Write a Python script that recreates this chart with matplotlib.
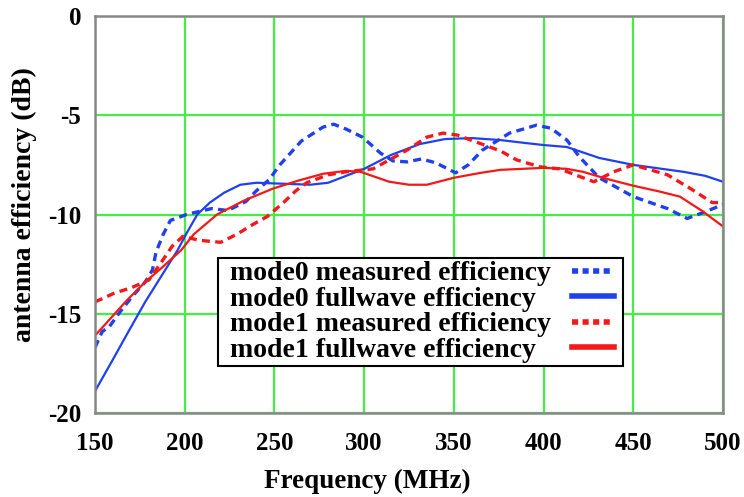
import matplotlib
matplotlib.use('Agg')
import matplotlib.pyplot as plt
from matplotlib.offsetbox import HPacker, DrawingArea

# 数据 (MHz, dB)
m0_full_f = [150, 160, 168, 178, 187, 196, 201, 207, 214, 222, 231, 240, 255, 270, 280,
             290, 300, 315, 331, 345, 360, 376, 390, 400, 413, 431, 450, 478, 490, 500]
m0_full_db = [-18.9, -17.3, -16.0, -14.4, -13.1, -11.8, -10.95, -10.0, -9.4, -8.9, -8.5, -8.4,
              -8.45, -8.5, -8.4, -8.05, -7.7, -7.0, -6.45, -6.2, -6.15, -6.25, -6.4, -6.5,
              -6.6, -7.15, -7.5, -7.85, -8.05, -8.35]

m1_full_f = [150, 159, 168, 178, 187, 198, 205, 218, 233, 249, 263, 277, 290, 298, 306,
             314, 325, 335, 350, 365, 376, 400, 413, 422, 435, 450, 465, 476, 488, 500]
m1_full_db = [-16.1, -15.2, -14.3, -13.4, -12.7, -11.8, -11.0, -10.0, -9.3, -8.7, -8.3, -7.95,
              -7.8, -7.85, -8.1, -8.35, -8.5, -8.5, -8.15, -7.9, -7.75, -7.65, -7.7, -7.85,
              -8.2, -8.55, -8.85, -9.1, -9.8, -10.6]

m0_meas_f = [150, 154, 158, 164, 171, 178, 182, 184, 188, 192, 201, 208, 215, 224, 234,
             240, 247, 253, 259, 265, 277, 283, 290, 299, 309, 316, 324, 332, 340, 351,
             358, 366, 381, 396, 404, 413, 420, 431, 450, 469, 480, 489, 500]
m0_meas_db = [-16.7, -15.9, -15.65, -14.9, -14.1, -13.4, -12.8, -11.9, -11.0, -10.3, -10.0,
              -9.85, -9.7, -9.8, -9.35, -8.8, -8.25, -7.5, -6.9, -6.3, -5.6, -5.45, -5.7,
              -6.1, -6.9, -7.3, -7.35, -7.2, -7.4, -7.9, -7.5, -6.75, -5.9, -5.5, -5.65,
              -6.25, -7.1, -8.15, -9.1, -9.7, -10.2, -9.9, -9.5]

m1_meas_f = [150, 155, 161, 170, 180, 187, 193, 199, 208, 220, 229, 238, 246, 255, 262,
             268, 280, 290, 305, 314, 324, 335, 344, 352, 361, 376, 385, 398, 409, 422,
             428, 439, 450, 469, 482, 494, 500]
m1_meas_db = [-14.4, -14.2, -13.95, -13.7, -13.3, -12.4, -11.6, -11.1, -11.3, -11.4, -11.0,
              -10.5, -10.1, -9.4, -8.8, -8.4, -8.0, -7.85, -7.7, -7.25, -6.75, -6.1, -5.9,
              -6.0, -6.3, -6.8, -7.25, -7.6, -7.7, -8.15, -8.35, -7.85, -7.5, -8.0, -8.7,
              -9.4, -9.4]

labels = ['mode0 measured efficiency', 'mode0 fullwave efficiency',
          'mode1 measured efficiency', 'mode1 fullwave efficiency']
xticks = [150, 200, 250, 300, 350, 400, 450, 500]
yticks = [0, -5, -10, -15, -20]

blue = '#2040ee'
red = '#f41818'

plt.rcParams['font.family'] = ['Liberation Serif', 'DejaVu Serif']
plt.rcParams['font.weight'] = 'bold'
plt.rcParams['axes.unicode_minus'] = False

fig = plt.figure(figsize=(7.44, 4.97), dpi=100)
ax = fig.add_axes([0.1277, 0.169, 0.8441, 0.7988])

ax.plot(m0_meas_f, m0_meas_db, color=blue, lw=2.4, dashes=(2.4, 1.6), label=labels[0])
ax.plot(m0_full_f, m0_full_db, color=blue, lw=1.6, label=labels[1])
ax.plot(m1_meas_f, m1_meas_db, color=red, lw=2.4, dashes=(2.4, 1.6), label=labels[2])
ax.plot(m1_full_f, m1_full_db, color=red, lw=1.6, label=labels[3])

ax.set_xlim(150, 500)
ax.set_ylim(-20, 0)
ax.set_xticks(xticks)
ax.set_yticks(yticks)
ax.tick_params(length=0, labelsize=18, pad=10)
ax.tick_params(axis='x', pad=14)
ax.grid(True, color='#44ee44', lw=1.6)
ax.set_axisbelow(True)
for s in ax.spines.values():
    s.set_color('#888888')
    s.set_linewidth(1.8)

ax.set_xlabel('Frequency (MHz)', fontsize=19.5, fontweight='bold')
ax.set_ylabel('antenna efficiency (dB)', fontsize=20, fontweight='bold')
ax.xaxis.set_label_coords(0.434, -0.141)
ax.yaxis.set_label_coords(-0.092, 0.524)

leg = ax.legend(loc='upper left', bbox_to_anchor=(0.196, 0.390), borderaxespad=0,
                markerfirst=False, fancybox=False, framealpha=1, edgecolor='black',
                prop={'size': 20, 'weight': 'bold'}, handlelength=1.5,
                labelspacing=0, borderpad=0.1, handletextpad=0.3)
leg.get_frame().set_linewidth(1.5)
for i, h in enumerate(leg.get_lines()):
    h.set_linewidth(4)
    if i % 2 == 0:
        h.set_dashes((1.1, 0.8))

# 文字靠左, 图例线靠右, 两边留边距
for col in leg._legend_handle_box.get_children():
    rows = col.get_children()
    for k, row in enumerate(rows):
        row.mode = 'expand'
        row.width = 384
        rows[k] = HPacker(pad=0, sep=0, align='baseline',
                          children=[DrawingArea(6.5, 0, 0, 0), row,
                                    DrawingArea(4.5, 0, 0, 0)])

fig.savefig('out.png', dpi=100)
